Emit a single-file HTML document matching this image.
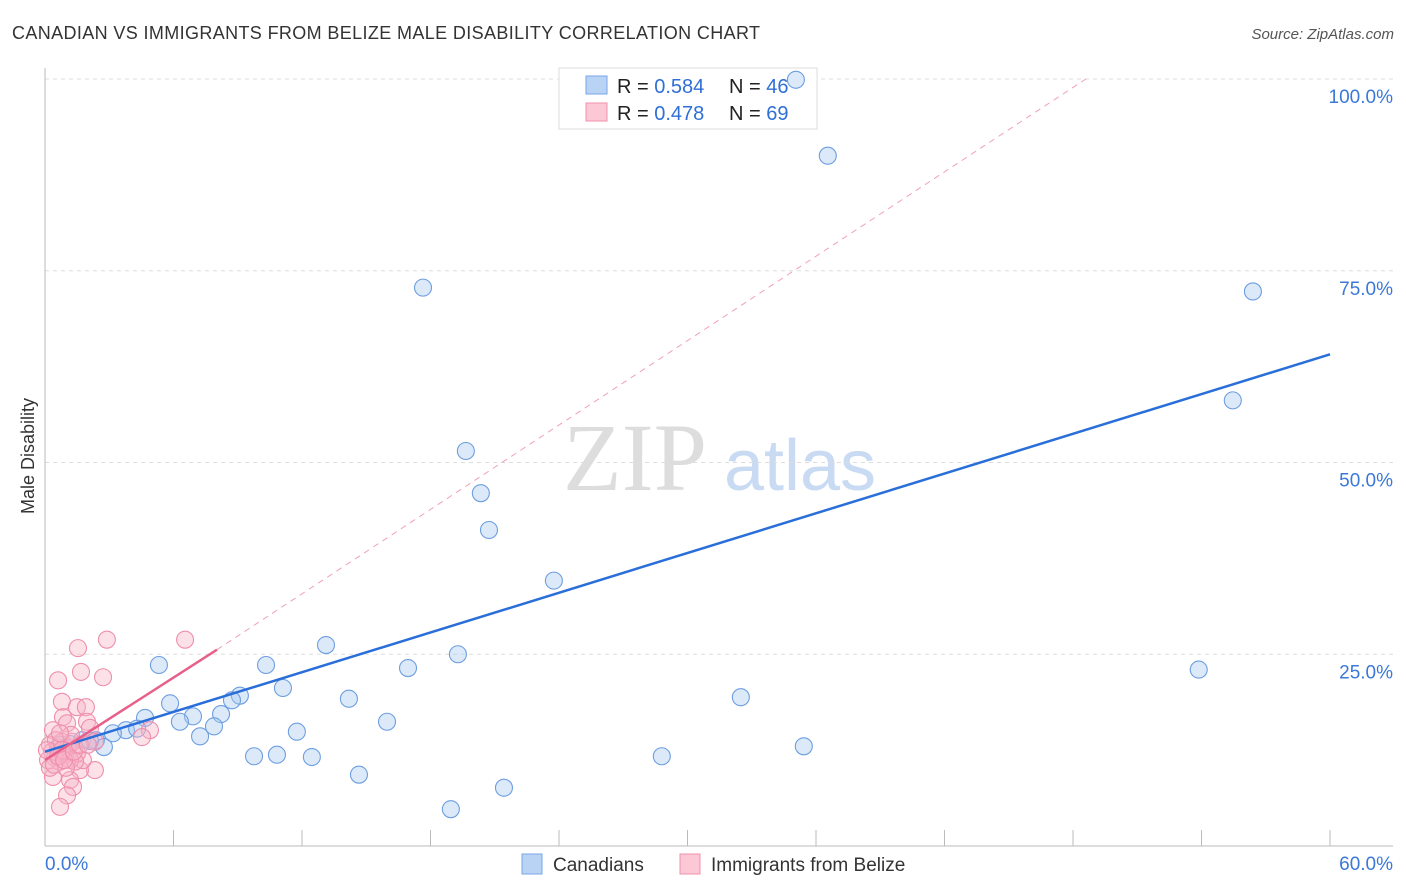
<!DOCTYPE html>
<html><head><meta charset="utf-8"><style>
body{margin:0;background:#fff;font-family:"Liberation Sans",sans-serif}
svg{display:block}
</style></head><body>
<svg id="chart" width="1406" height="892">
<text x="12" y="39" font-size="18" fill="#333" textLength="748">CANADIAN VS IMMIGRANTS FROM BELIZE MALE DISABILITY CORRELATION CHART</text>
<text x="1394" y="39" font-size="15" fill="#555" font-style="italic" text-anchor="end">Source: ZipAtlas.com</text>
<text x="635" y="490" font-size="96" fill="#ddd" font-family="Liberation Serif,serif" text-anchor="middle">ZIP</text>
<text x="800" y="490" font-size="72" fill="#c9daf3" text-anchor="middle">atlas</text>
<text transform="translate(34,456) rotate(-90)" font-size="18" fill="#333" text-anchor="middle">Male Disability</text>
<g id="grid"></g>
<g>
<rect x="559" y="68" width="258" height="61" fill="#fff" stroke="#ddd"/>
<rect x="586" y="76" width="21" height="18" fill="#b9d3f5" stroke="#7aa6e6"/>
<rect x="586" y="103" width="21" height="18" fill="#fcc8d6" stroke="#f090ac"/>
<text x="617" y="93" font-size="20" fill="#222">R = <tspan fill="#2f6fd6">0.584</tspan></text>
<text x="729" y="93" font-size="20" fill="#222">N = <tspan fill="#2f6fd6">46</tspan></text>
<text x="617" y="120" font-size="20" fill="#222">R = <tspan fill="#2f6fd6">0.478</tspan></text>
<text x="729" y="120" font-size="20" fill="#222">N = <tspan fill="#2f6fd6">69</tspan></text>
</g>
<g id="marks"></g>
<g>
<rect x="522" y="854" width="20" height="20" fill="#b9d3f5" stroke="#7aa6e6"/>
<text x="553" y="871" font-size="19" fill="#333">Canadians</text>
<rect x="680" y="854" width="20" height="20" fill="#fcc8d6" stroke="#f090ac"/>
<text x="711" y="871" font-size="19" fill="#333">Immigrants from Belize</text>
</g>
</svg>
<script>
const yTicks=[25,50,75,100];
const yTickLabels=["25.0%","50.0%","75.0%","100.0%"];
const xTickLabels=["0.0%","60.0%"];
const blueX=[35.06,36.55,17.65,56.40,55.46,19.65,20.35,20.73,23.76,13.12,19.28,5.32,10.32,16.95,53.87,11.11,14.19,32.49,5.84,9.10,8.73,8.22,6.91,4.67,6.30,15.97,11.76,7.89,7.24,3.78,4.30,3.17,1.73,2.38,2.75,35.43,28.80,9.76,10.83,12.46,14.66,21.43,18.95,1.17,2.10,0.70];
const blueY=[99.9,90.0,72.8,72.3,58.1,51.5,46.0,41.2,34.6,26.2,25.0,23.6,23.6,23.2,23.0,20.6,19.2,19.4,18.6,19.6,19.0,17.2,16.9,16.7,16.2,16.2,14.9,15.6,14.3,15.1,15.3,14.7,13.8,13.8,12.9,13.0,11.7,11.7,11.9,11.6,9.3,7.6,4.8,13.3,13.7,13.2];
const pinkX=[2.89,6.54,1.54,0.61,1.68,2.71,0.79,1.49,1.91,0.84,1.96,2.10,4.90,4.53,0.37,1.03,2.33,2.33,1.63,1.17,1.31,1.03,0.70,0.37,1.77,1.49,0.23,0.33,0.47,0.61,0.70,0.79,0.93,1.07,1.17,0.14,0.23,0.51,1.26,1.40,0.98,0.42,0.09,0.79,0.61,0.89,1.35,1.63,2.0,1.21,0.70];
const pinkY=[26.9,26.9,25.8,21.6,22.7,22.0,18.8,18.1,18.1,16.8,16.2,15.4,15.1,14.2,15.1,16.0,13.6,9.9,9.9,8.6,7.7,6.6,5.1,9.0,11.2,12.1,13.2,12.3,11.5,12.8,11.0,13.6,11.9,12.8,11.2,11.2,10.2,13.8,13.6,11.0,10.2,10.6,12.5,12.5,11.7,11.2,12.3,13.2,13.2,14.5,14.7];
const blueTrend=[[0,12.3],[60,64.1]];
const pinkTrend=[[0,11.2],[8.03,25.6]];
const pinkDash=[[8.03,25.6],[48.6,100]];
const X=v=>45+v*21.417, Y=v=>846-v*7.67;
const NS="http://www.w3.org/2000/svg";
function mk(t,a,p){const e=document.createElementNS(NS,t);for(const k in a)e.setAttribute(k,a[k]);p.appendChild(e);return e;}
const g=document.getElementById('grid'), m=document.getElementById('marks');
yTicks.forEach((t,i)=>{
 const l=mk('line',{x1:45,x2:1393,y1:Y(t),y2:Y(t),stroke:'#ddd','stroke-dasharray':'4,4'},g);
 
 
 const tx=mk('text',{x:1393,y:Y(t)+24,'font-size':19,fill:'#3b78d8','text-anchor':'end'},g);
 tx.textContent=yTickLabels[i];
 
 
});
mk('line',{x1:45,x2:45,y1:68,y2:846,stroke:'#bbb'},g);
mk('line',{x1:45,x2:1393,y1:846,y2:846,stroke:'#bbb'},g);
for(let i=1;i<=10;i++){const x=X(i*6);const t=mk('line',{x1:x,x2:x,y1:830,y2:846,stroke:'#bbb'},g);
 
 }
[[0,'start',45],[60,'end',1393]].forEach((d,i)=>{const t=mk('text',{x:d[2],y:870,'font-size':19,fill:'#3b78d8','text-anchor':d[1]},g);t.textContent=xTickLabels[i];
 
 });
blueX.forEach((v,i)=>{const c=mk('circle',{cx:X(v),cy:Y(blueY[i]),r:8.5,fill:'rgba(168,200,240,0.4)',stroke:'#6d9ee0','stroke-width':1.1},m);
 
 });
pinkX.forEach((v,i)=>{const c=mk('circle',{cx:X(v),cy:Y(pinkY[i]),r:8.5,fill:'rgba(248,180,200,0.4)',stroke:'#ee8fab','stroke-width':1.1},m);
 
 });
const d=mk('line',{x1:X(pinkDash[0][0]),y1:Y(pinkDash[0][1]),x2:X(pinkDash[1][0]),y2:Y(pinkDash[1][1]),stroke:'#f0a0b8','stroke-dasharray':'6,5'},m);


const b=mk('line',{x1:X(blueTrend[0][0]),y1:Y(blueTrend[0][1]),x2:X(blueTrend[1][0]),y2:Y(blueTrend[1][1]),stroke:'#2a6fd9','stroke-width':2.5},m);


const p=mk('line',{x1:X(pinkTrend[0][0]),y1:Y(pinkTrend[0][1]),x2:X(pinkTrend[1][0]),y2:Y(pinkTrend[1][1]),stroke:'#e8608a','stroke-width':2.5},m);


</script>
</body></html>
